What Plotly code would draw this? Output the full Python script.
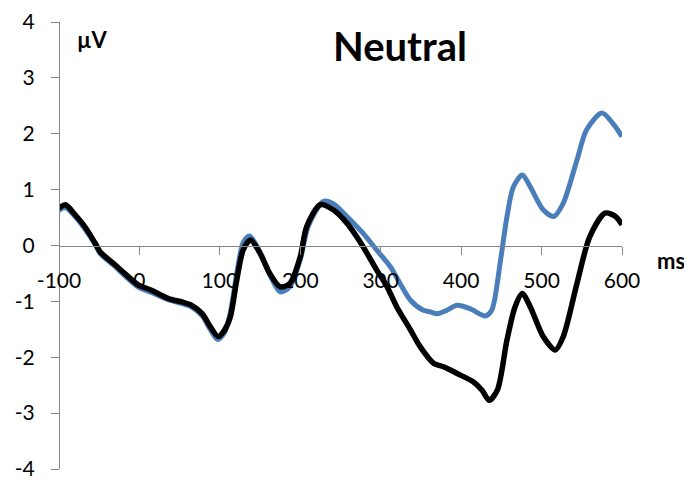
import plotly.graph_objects as go

# Time (ms) and amplitude (µV)
black_ms = [-100, -92, -80, -68, -55, -49, -30, -16, -1, 15, 36, 53, 65, 78, 88, 98, 106, 113, 121, 129,
            138, 150, 162, 175, 187, 200, 208, 225, 241, 258, 270, 283, 295, 308, 320, 337, 349, 366, 378,
            395, 415, 426, 435, 445, 457, 467, 476, 486, 502, 517, 527, 544, 560, 579, 592, 600]
black_uv = [0.67, 0.73, 0.55, 0.34, 0.04, -0.11, -0.35, -0.53, -0.71, -0.80, -0.95, -1.01, -1.07, -1.22,
            -1.45, -1.63, -1.51, -1.28, -0.62, -0.08, 0.10, -0.14, -0.50, -0.74, -0.68, -0.20, 0.34, 0.73,
            0.64, 0.40, 0.16, -0.14, -0.44, -0.74, -1.10, -1.51, -1.81, -2.11, -2.17, -2.29, -2.44, -2.59,
            -2.77, -2.59, -1.69, -1.10, -0.86, -1.10, -1.63, -1.87, -1.63, -0.68, 0.16, 0.58, 0.52, 0.37]

blue_ms = [-100, -92, -80, -68, -55, -49, -30, -16, -1, 15, 36, 53, 65, 78, 88, 97, 106, 113, 121, 129,
           137, 150, 162, 175, 187, 200, 210, 229, 241, 258, 278, 295, 312, 324, 337, 353, 362, 370, 382,
           395, 411, 430, 438, 449, 457, 465, 476, 486, 502, 515, 527, 544, 556, 575, 590, 600]
blue_uv = [0.63, 0.68, 0.52, 0.30, 0.02, -0.14, -0.38, -0.57, -0.75, -0.84, -0.97, -1.04, -1.10, -1.26,
           -1.50, -1.68, -1.55, -1.20, -0.50, 0.05, 0.17, -0.12, -0.52, -0.83, -0.74, -0.25, 0.35, 0.79,
           0.75, 0.52, 0.22, -0.08, -0.38, -0.68, -0.98, -1.16, -1.19, -1.22, -1.16, -1.07, -1.13, -1.26,
           -1.16, -0.26, 0.52, 1.05, 1.26, 1.05, 0.64, 0.52, 0.76, 1.53, 2.07, 2.37, 2.16, 1.95]

x_ticks = [-100, 0, 100, 200, 300, 400, 500, 600]
y_ticks = [-4, -3, -2, -1, 0, 1, 2, 3, 4]

AXIS = "#868686"
FONT = "Lato, 'Open Sans', sans-serif"

fig = go.Figure()
fig.add_trace(go.Scatter(x=blue_ms, y=blue_uv, mode="lines",
                         line=dict(color="#4a7ebb", width=5, shape="spline", smoothing=0.8),
                         showlegend=False, hoverinfo="skip"))
fig.add_trace(go.Scatter(x=black_ms, y=black_uv, mode="lines",
                         line=dict(color="#000000", width=5.5, shape="spline", smoothing=0.8),
                         showlegend=False, hoverinfo="skip"))

fig.update_layout(
    width=684, height=472,
    margin=dict(l=51, r=70, t=14, b=11, autoexpand=False),
    paper_bgcolor="white", plot_bgcolor="white",
    font=dict(family=FONT, size=21, color="black"),
    showlegend=False,
    xaxis=dict(range=[-100, 600], tickvals=x_ticks, ticktext=[str(v) for v in x_ticks],
               showgrid=False, zeroline=False, showline=True, linecolor=AXIS, linewidth=1.3,
               ticks="outside", ticklen=8, tickcolor=AXIS, tickwidth=1.3,
               anchor="free", position=0.5, ticklabelstandoff=8, automargin=False,
               ticklabeloverflow="allow",
               tickfont=dict(family=FONT, size=21, color="black")),
    yaxis=dict(range=[-4, 4], tickvals=y_ticks, ticktext=[str(v) for v in y_ticks],
               showgrid=False, zeroline=False, showline=True, linecolor=AXIS, linewidth=1.3,
               ticks="outside", ticklen=8, tickcolor=AXIS, tickwidth=1.3,
               anchor="free", position=0, ticklabelstandoff=12, automargin=False,
               ticklabeloverflow="allow",
               tickfont=dict(family=FONT, size=21, color="black")),
    annotations=[
        dict(text="<b>Neutral</b>", xref="paper", yref="paper", x=(400 - 59) / 563, y=1 - (46 - 22) / 447,
             xanchor="center", yanchor="middle", showarrow=False,
             font=dict(family=FONT, size=40, color="black")),
        dict(text="<b>µV</b>", xref="paper", yref="paper", x=(92 - 59) / 563, y=1 - (40 - 22) / 447,
             xanchor="center", yanchor="middle", showarrow=False,
             font=dict(family=FONT, size=22, color="black")),
        dict(text="<b>ms</b>", xref="paper", yref="paper", x=(671 - 59) / 563, y=1 - (260 - 22) / 447,
             xanchor="center", yanchor="middle", showarrow=False,
             font=dict(family=FONT, size=22, color="black")),
    ],
)

fig.write_html("out.html")
